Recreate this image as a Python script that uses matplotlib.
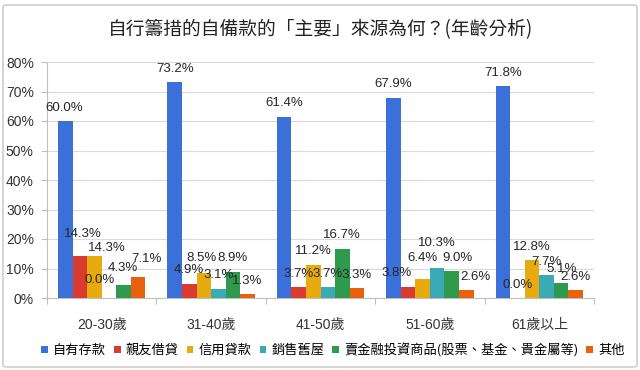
import matplotlib
matplotlib.use("Agg")
import matplotlib.pyplot as plt
import numpy as np
from matplotlib.patches import FancyBboxPatch, Patch

plt.rcParams.update({
    "font.family": ["Liberation Sans", "Noto Sans CJK TC"],
    "axes.linewidth": 0.8,
})

TITLE = "自行籌措的自備款的「主要」來源為何？(年齡分析)"
groups = ["20-30歲", "31-40歲", "41-50歲", "51-60歲", "61歲以上"]
series = ["自有存款", "親友借貸", "信用貸款", "銷售舊屋",
          "賣金融投資商品(股票、基金、貴金屬等)", "其他"]
own_savings = [60.0, 73.2, 61.4, 67.9, 71.8]
family_loans = [14.3, 4.9, 3.7, 3.8, 0.0]
credit_loans = [14.3, 8.5, 11.2, 6.4, 12.8]
sell_house = [0.0, 3.1, 3.7, 10.3, 7.7]
sell_invest = [4.3, 8.9, 16.7, 9.0, 5.1]
other = [7.1, 1.3, 3.3, 2.6, 2.6]
values = [own_savings, family_loans, credit_loans, sell_house, sell_invest, other]

COLORS = ["#3a70d8", "#d93b2f", "#e8ab0f", "#3aaab5", "#2f9a4d", "#e8620d"]
GRID, AXIS, INK = "#d9d9d9", "#bfbfbf", "#262626"

# label nudges (pixels) where the original labels were shoved around
NUDGE = {(0, 0): (-1, 13), (0, 1): (3, 22), (0, 2): (12, 8), (0, 3): (-9, 18),
         (0, 4): (-1, 17), (0, 5): (8, 18), (1, 2): (-2, 15),
         (3, 1): (-11, 14), (3, 2): (0, 21), (3, 3): (0, 25),
         (3, 4): (6, 13), (3, 5): (9, 13)}

fig = plt.figure(figsize=(6.4, 3.7), dpi=100)
fig.patches.append(FancyBboxPatch(
    (3 / 640, 3 / 370), 634 / 640, 362 / 370,
    boxstyle="round,pad=0,rounding_size=0.006", transform=fig.transFigure,
    facecolor="white", edgecolor="#c4c4c4", linewidth=1.0, zorder=-1))

ax = fig.add_axes([47 / 640, 72 / 370, 547 / 640, 236 / 370])
x = np.arange(len(groups))
w = 0.133
for i, (name, vals) in enumerate(zip(series, values)):
    pos = x + (i - 2.5) * w
    ax.bar(pos, vals, width=w, color=COLORS[i], label=name, zorder=3)
    for g, (p, v) in enumerate(zip(pos, vals)):
        dx, dy = NUDGE.get((g, i), (0, 13.5))
        ax.annotate(f"{v:.1f}%", (p, v), xytext=(dx, dy),
                    textcoords="offset pixels", ha="center", va="center",
                    fontsize=9.5, color=INK, zorder=5)

ax.set_xlim(-0.5, len(groups) - 0.5)
ax.set_ylim(0, 80)
ax.set_yticks(range(0, 81, 10))
ax.set_yticklabels([f"{t}%" for t in range(0, 81, 10)])
ax.yaxis.grid(True, color=GRID, linewidth=0.8, zorder=0)
ax.set_axisbelow(True)
ax.set_xticks(np.arange(-0.5, len(groups)), minor=False)
ax.set_xticklabels([])
ax.set_xticks(x, minor=True)
ax.set_xticklabels(groups, minor=True)
ax.tick_params(axis="x", which="major", length=4, color=AXIS, direction="out")
ax.tick_params(axis="x", which="minor", length=0, pad=14, labelsize=10,
               labelcolor="#333333")
ax.tick_params(axis="y", length=4, color=AXIS, pad=5.5, labelsize=10,
               labelcolor="#333333")
for s in ("top", "right"):
    ax.spines[s].set_visible(False)
ax.spines["left"].set_color(AXIS)
ax.spines["bottom"].set_color(AXIS)

fig.text(321 / 640, 1 - 30 / 370, TITLE, ha="center", va="center",
         fontsize=13.5, color="#222222", family=["Noto Sans CJK TC"])

handles = [Patch(facecolor=c, edgecolor="none") for c in COLORS]
fig.legend(handles, series, loc="center", bbox_to_anchor=(333 / 640, 1 - 350 / 370),
           ncol=6, frameon=False, fontsize=9.5, handlelength=0.5,
           handleheight=0.5, handletextpad=0.4, columnspacing=0.6,
           prop={"family": ["Noto Sans CJK TC"], "size": 9.5})

fig.savefig("out.png", dpi=100)
